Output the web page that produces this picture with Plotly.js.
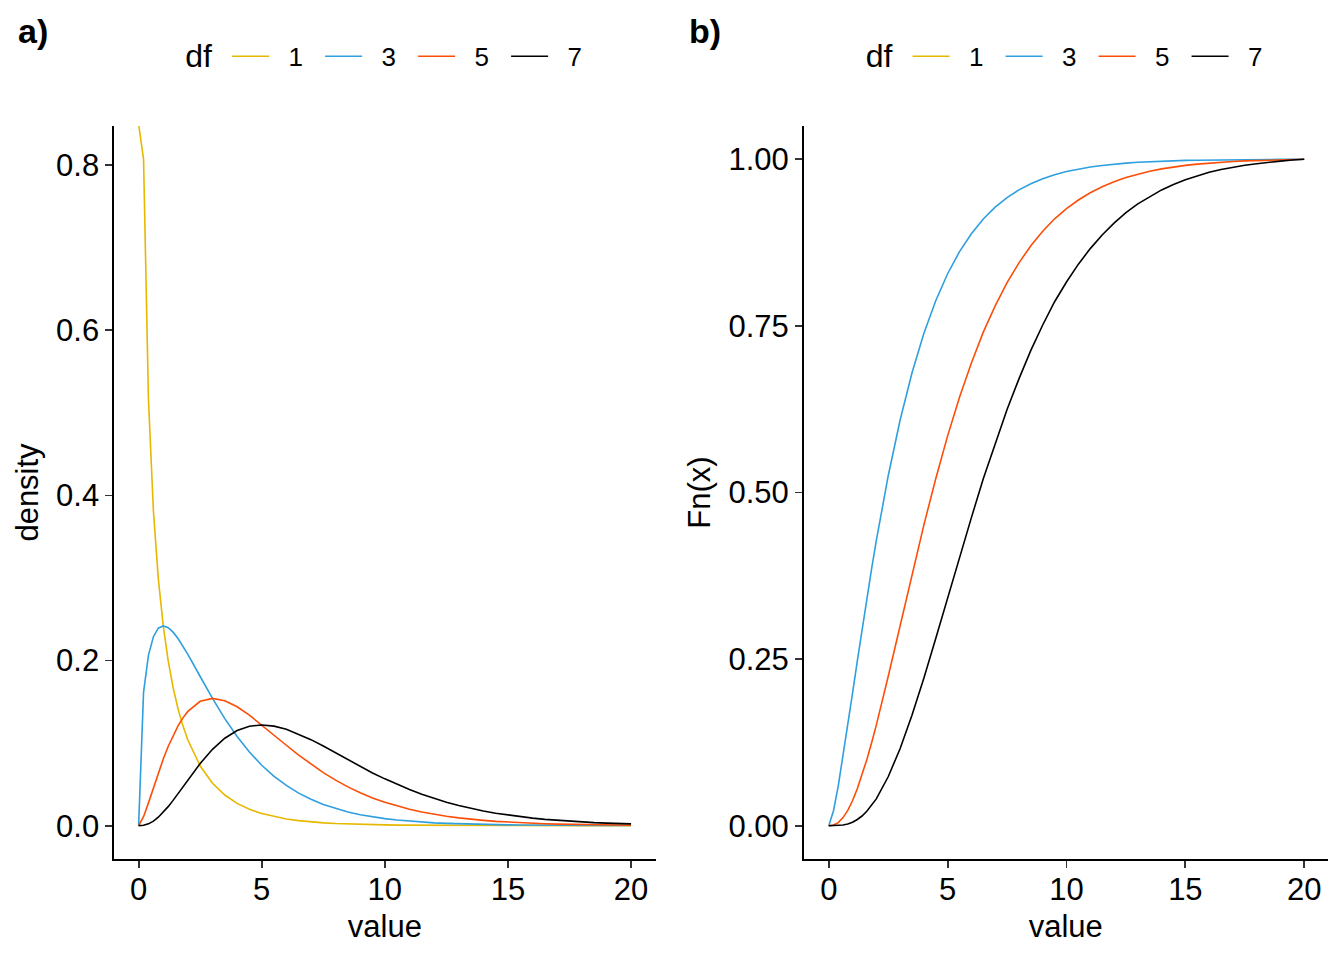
<!DOCTYPE html>
<html>
<head>
<meta charset="utf-8">
<script src="https://cdn.plot.ly/plotly-3.0.1.min.js"></script>
<style>html,body{margin:0;padding:0;background:#fff;} #chart{width:1344px;height:960px;}</style>
</head>
<body>
<div id="chart"></div>
<script>
// ---- data ----
var dfLevels = ["1", "3", "5", "7"];
var dfColors = ["#E7B800", "#2E9FDF", "#FC4E07", "#000000"];

var xValues = [0, 0.2, 0.4, 0.6, 0.8, 1, 1.2, 1.4, 1.6, 1.8, 2,
  2.5, 3, 3.5, 4, 4.5, 5, 5.5, 6, 6.5, 7,
  7.5, 8, 8.5, 9, 9.5, 10, 10.5, 11, 11.5, 12,
  12.5, 13, 13.5, 14, 14.5, 15, 15.5, 16, 16.5, 17,
  17.5, 18, 18.5, 19, 19.5, 20];

// panel a: density (df = 1 runs off the top of the panel at 0)
var density1 = [0.85, 0.8072, 0.5164, 0.3815, 0.2990, 0.2420, 0.1999, 0.1674, 0.1417, 0.1209, 0.1038,
  0.0723, 0.0514, 0.0371, 0.0270, 0.0198, 0.0146, 0.0109, 0.0081, 0.0061, 0.0046,
  0.0034, 0.0026, 0.0020, 0.0015, 0.0011, 0.0009, 0.0006, 0.0005, 0.0004, 0.0003,
  0.0002, 0.0002, 0.0001, 0.0001, 0.0001, 0.0001, 0, 0, 0, 0,
  0, 0, 0, 0, 0, 0];
var density3 = [0, 0.1614, 0.2066, 0.2289, 0.2392, 0.2420, 0.2398, 0.2344, 0.2267, 0.2176, 0.2076,
  0.1807, 0.1542, 0.1297, 0.1080, 0.0892, 0.0732, 0.0598, 0.0487, 0.0394, 0.0319,
  0.0257, 0.0207, 0.0166, 0.0133, 0.0106, 0.0085, 0.0068, 0.0054, 0.0043, 0.0034,
  0.0027, 0.0022, 0.0017, 0.0014, 0.0011, 0.0009, 0.0007, 0.0005, 0.0004, 0.0003,
  0.0003, 0.0002, 0.0002, 0.0001, 0.0001, 0.0001];
var density5 = [0, 0.0108, 0.0276, 0.0458, 0.0638, 0.0807, 0.0959, 0.1094, 0.1209, 0.1306, 0.1384,
  0.1506, 0.1542, 0.1513, 0.1440, 0.1338, 0.1220, 0.1096, 0.0974, 0.0854, 0.0744,
  0.0643, 0.0552, 0.0470, 0.0399, 0.0336, 0.0283, 0.0237, 0.0198, 0.0165, 0.0137,
  0.0113, 0.0094, 0.0077, 0.0064, 0.0052, 0.0043, 0.0035, 0.0028, 0.0023, 0.0019,
  0.0015, 0.0013, 0.0010, 0.0008, 0.0007, 0.0005];
var density7 = [0, 0.0004, 0.0022, 0.0055, 0.0102, 0.0161, 0.0230, 0.0306, 0.0387, 0.0470, 0.0554,
  0.0753, 0.0925, 0.1059, 0.1152, 0.1204, 0.1220, 0.1206, 0.1169, 0.1110, 0.1042,
  0.0964, 0.0883, 0.0800, 0.0718, 0.0638, 0.0567, 0.0498, 0.0437, 0.0380, 0.0329,
  0.0283, 0.0243, 0.0209, 0.0178, 0.0151, 0.0128, 0.0109, 0.0091, 0.0076, 0.0064,
  0.0053, 0.0045, 0.0037, 0.0031, 0.0025, 0.0021];

// panel b: Fn(x) (no df = 1 curve is drawn in this panel)
var cdf3 = [0, 0.0225, 0.0597, 0.1037, 0.1505, 0.1987, 0.2471, 0.2945, 0.3407, 0.3851, 0.4276,
  0.5248, 0.6084, 0.6793, 0.7385, 0.7877, 0.8283, 0.8614, 0.8883, 0.9105, 0.9282,
  0.9426, 0.9541, 0.9634, 0.9709, 0.9769, 0.9816, 0.9854, 0.9884, 0.9908, 0.9928,
  0.9943, 0.9955, 0.9965, 0.9973, 0.9979, 0.9984, 0.9987, 0.9990, 0.9993, 0.9995,
  0.9996, 0.9997, 0.9998, 0.9999, 0.9999, 1.0];
var cdf5 = [0, 0.0010, 0.0046, 0.0121, 0.0230, 0.0374, 0.0553, 0.0758, 0.0990, 0.1241, 0.1509,
  0.2239, 0.3003, 0.3771, 0.4511, 0.5207, 0.5850, 0.6429, 0.6943, 0.7406, 0.7801,
  0.8149, 0.8446, 0.8703, 0.8920, 0.9107, 0.9259, 0.9389, 0.9498, 0.9588, 0.9664,
  0.9727, 0.9778, 0.9820, 0.9856, 0.9885, 0.9909, 0.9928, 0.9944, 0.9957, 0.9968,
  0.9976, 0.9983, 0.9989, 0.9993, 0.9997, 1.0];
var cdf7 = [0, 0.0001, 0.0003, 0.0010, 0.0025, 0.0051, 0.0093, 0.0145, 0.0216, 0.0301, 0.0402,
  0.0734, 0.1155, 0.1657, 0.2213, 0.2808, 0.3421, 0.4031, 0.4623, 0.5206, 0.5739,
  0.6246, 0.6705, 0.7132, 0.7514, 0.7863, 0.8159, 0.8427, 0.8660, 0.8865, 0.9043,
  0.9199, 0.9331, 0.9442, 0.9541, 0.9622, 0.9695, 0.9751, 0.9805, 0.9846, 0.9883,
  0.9912, 0.9934, 0.9958, 0.9973, 0.9989, 1.0];

var xTicks = [0, 5, 10, 15, 20];
var densityTicks = [0, 0.2, 0.4, 0.6, 0.8];
var cdfTicks = [0, 0.25, 0.5, 0.75, 1];
var tagLabels = ["a)", "b)"];

// ---- traces ----
var densitySeries = [density1, density3, density5, density7];
var cdfSeries = [null, cdf3, cdf5, cdf7];
var traces = [];
var FONT = "Liberation Sans, Arial, sans-serif";
var PAD = "\u00a0\u00a0";

dfLevels.forEach(function (lvl, i) {
  traces.push({
    type: "scatter", mode: "lines", name: PAD + lvl,
    x: xValues, y: densitySeries[i],
    xaxis: "x", yaxis: "y", legend: "legend",
    line: {color: dfColors[i], width: 1.6}
  });
});
dfLevels.forEach(function (lvl, i) {
  var ys = cdfSeries[i];
  traces.push({
    type: "scatter", mode: "lines", name: PAD + lvl,
    x: ys ? xValues : [null], y: ys ? ys : [null],
    xaxis: "x2", yaxis: "y2", legend: "legend2",
    line: {color: dfColors[i], width: 1.6}
  });
});

var tickFont = {family: FONT, size: 31, color: "#000"};
var titleFont = {family: FONT, size: 31, color: "#000"};

function xAxis(domain, range, anchor) {
  return {
    domain: domain, range: range, anchor: anchor,
    tickvals: xTicks, tickfont: tickFont, ticklabelstandoff: -5,
    showline: true, linecolor: "#000", linewidth: 1.6,
    ticks: "outside", ticklen: 7, tickwidth: 1.8, tickcolor: "#333",
    showgrid: false, zeroline: false,
    title: {text: "value", font: titleFont, standoff: 9}
  };
}
function yAxis(range, tickvals, fmt, title, anchor) {
  return {
    domain: [0, 1], range: range, anchor: anchor,
    tickvals: tickvals, tickformat: fmt, tickfont: tickFont,
    showline: true, linecolor: "#000", linewidth: 1.6,
    ticks: "outside", ticklen: 7, tickwidth: 1.8, tickcolor: "#333",
    showgrid: false, zeroline: false,
    title: {text: title, font: titleFont, standoff: 8}
  };
}
function legendCfg(x) {
  return {
    orientation: "h", x: x, xanchor: "left", y: 1.095, yanchor: "middle",
    yref: "paper",
    title: {text: '<span style="font-size:32px">df</span>\u00a0', side: "left",
            font: {family: FONT, size: 26, color: "#000"}},
    font: {family: FONT, size: 26, color: "#000"},
    itemwidth: 37, entrywidth: 41, entrywidthmode: "pixels",
    bgcolor: "rgba(0,0,0,0)", borderwidth: 0,
    traceorder: "normal"
  };
}

var layout = {
  width: 1344, height: 960,
  margin: {l: 114, r: 16, t: 126, b: 101},
  paper_bgcolor: "#fff", plot_bgcolor: "#fff",
  showlegend: true,
  font: {family: FONT, color: "#000"},
  xaxis: xAxis([0, 0.4462], [-1, 21], "y"),
  yaxis: yAxis([-0.0404, 0.8476], densityTicks, ".1f", "density", "x"),
  xaxis2: xAxis([0.568, 1], [-1.06, 21], "y2"),
  yaxis2: yAxis([-0.05, 1.05], cdfTicks, ".2f", "Fn(x)", "x2"),
  legend: legendCfg(0.057),
  legend2: legendCfg(0.6175),
  annotations: [
    {text: "<b>" + tagLabels[0] + "</b>", xref: "paper", yref: "paper", x: -0.081, y: 1.13,
     xanchor: "left", yanchor: "middle", showarrow: false, font: {family: FONT, size: 34, color: "#000"}},
    {text: "<b>" + tagLabels[1] + "</b>", xref: "paper", yref: "paper", x: 0.472, y: 1.13,
     xanchor: "left", yanchor: "middle", showarrow: false, font: {family: FONT, size: 34, color: "#000"}}
  ]
};

Plotly.newPlot("chart", traces, layout, {displayModeBar: false, staticPlot: true});
</script>
</body>
</html>
